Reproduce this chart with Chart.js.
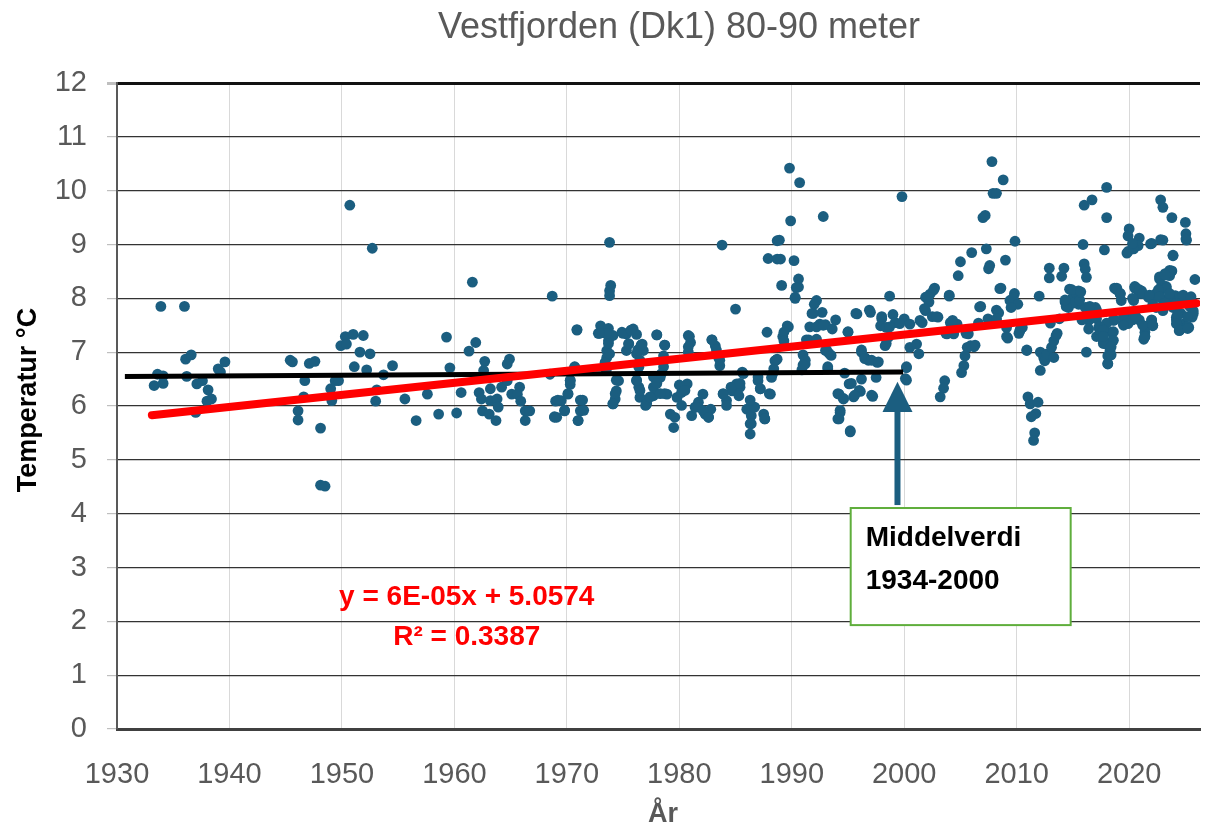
<!DOCTYPE html>
<html>
<head>
<meta charset="utf-8">
<script src="https://cdn.jsdelivr.net/npm/chart.js@4"></script>
<style>
html, body { margin: 0; padding: 0; background: #fff; }
</style>
</head>
<body>
<canvas id="myChart" width="1206" height="832"></canvas>
<script>
const obs1930s = [
  [1933.9,7.85],[1936.0,7.85],[1933.6,6.59],[1934.1,6.56],[1933.3,6.38],[1934.1,6.42],[1936.1,6.87],[1936.6,6.95],
  [1936.2,6.55],[1937.1,6.41],[1937.6,6.47],[1938.1,6.30],[1938.4,6.13],[1938.0,6.09],[1937.0,5.88],[1939.0,6.69],
  [1939.6,6.82],[1939.2,6.63],[1945.4,6.85],[1945.6,6.82],[1947.1,6.79],[1947.6,6.83],[1946.7,6.47],[1946.6,6.17],
  [1946.1,5.91],[1946.1,5.74],[1948.1,5.59],[1949.0,6.32],[1949.1,6.10],[1949.4,6.47],[1948.1,4.53],[1948.5,4.51]
];
const obs1950s = [
  [1950.7,9.73],[1952.7,8.93],[1961.6,8.30],[1968.7,8.04],[1950.3,7.29],[1951.0,7.33],[1951.9,7.31],[1949.9,7.12],
  [1950.4,7.15],[1951.6,7.00],[1952.5,6.97],[1951.1,6.73],[1952.2,6.67],[1953.7,6.58],[1954.5,6.75],[1949.7,6.47],
  [1953.1,6.30],[1953.0,6.09],[1955.6,6.13],[1956.6,5.73],[1957.6,6.22],[1958.6,5.85],[1959.3,7.28],[1959.6,6.71],
  [1960.2,5.87],[1960.6,6.25],[1961.3,7.02],[1961.9,7.18],[1962.7,6.83],[1962.6,6.66],[1962.2,6.25],[1962.4,6.13],
  [1963.2,6.32],[1963.2,6.10],[1962.5,5.91],[1963.1,5.85],[1963.7,5.73],[1963.8,6.13],[1963.9,5.98],[1964.2,6.35],
  [1964.7,6.47],[1964.7,6.78],[1964.9,6.87],[1965.1,6.22],[1965.8,6.35],[1965.6,6.22],[1965.9,6.09],[1966.3,5.91],
  [1966.7,5.91],[1966.3,5.73],[1968.5,6.59],[1969.0,6.09],[1968.9,5.80]
];
const obs1970s = [
  [1973.8,9.04],[1973.9,8.24],[1973.8,8.14],[1973.8,8.05],[1970.9,7.42],[1973.0,7.49],[1972.8,7.35],[1973.7,7.44],
  [1974.1,7.31],[1974.9,7.37],[1975.3,7.34],[1975.9,7.43],[1976.2,7.33],[1973.7,7.21],[1973.55,7.03],[1973.55,6.90],
  [1973.4,6.81],[1976.7,7.15],[1976.8,7.03],[1975.3,7.03],[1975.5,7.15],[1976.2,6.97],[1976.4,6.72],[1978.0,7.32],
  [1978.7,7.13],[1978.6,6.93],[1978.6,6.73],[1970.7,6.72],[1970.3,6.47],[1970.3,6.40],[1970.1,6.22],[1969.5,6.10],
  [1969.8,5.91],[1969.1,5.79],[1971.4,6.11],[1971.2,5.91],[1971.0,5.73],[1974.6,6.47],[1974.4,6.28],[1974.3,6.13],
  [1974.1,6.04],[1976.2,6.47],[1976.4,6.35],[1976.5,6.16],[1977.1,6.10],[1977.0,6.01],[1977.7,6.35],[1978.0,6.47],
  [1978.3,6.53],[1977.7,6.19],[1978.9,6.22],[1979.2,5.85],[1979.5,5.60],[1979.6,5.79],[1979.8,6.16],
  [1973.5,7.35],[1973.7,7.16],[1973.8,6.97],[1973.5,6.66],[1974.4,6.48],[1974.3,6.23],[1974.1,6.04],[1975.0,7.35],
  [1975.7,7.41],[1975.5,7.16],[1976.3,7.04],[1976.6,7.13],[1976.5,6.85],[1976.2,6.48],[1976.5,6.29],[1977.1,6.04],
  [1977.4,6.17],[1977.7,6.54],[1978.0,6.42],[1978.4,6.60],[1978.7,6.23],[1978.3,6.23],[1978.7,7.13],[1978.0,7.32],
  [1972.9,7.35],[1970.9,7.41],[1970.3,6.48],[1970.1,6.23],[1971.2,6.11],[1971.5,5.92],[1971.0,5.73],[1968.9,5.79],
  [1969.8,5.92],[1969.2,6.11],[1970.7,6.73]
];
const obs1980s = [
  [1983.8,8.99],[1988.7,9.07],[1987.9,8.74],[1988.7,8.73],[1985.0,7.80],[1987.8,7.37],[1980.2,6.25],[1980.5,6.35],
  [1980.7,6.41],[1980.2,6.01],[1980.8,7.31],[1981.0,7.18],[1980.8,7.00],[1981.1,5.82],[1981.4,5.98],[1981.7,6.07],
  [1982.1,6.22],[1982.3,5.85],[1982.6,5.79],[1982.8,5.94],[1982.9,7.23],[1983.2,7.12],[1983.5,6.90],[1983.6,6.75],
  [1983.9,6.22],[1984.2,6.10],[1984.2,6.01],[1984.7,6.28],[1985.1,6.41],[1985.4,6.35],[1985.3,6.19],[1985.6,6.63],
  [1986.0,5.94],[1986.3,5.67],[1986.4,5.82],[1986.7,5.98],[1987.0,6.47],[1987.2,6.32],[1987.5,5.85],[1987.6,5.76],
  [1988.1,6.22],[1988.2,6.53],[1988.5,6.84],[1988.4,6.69],
  [1980.9,7.29],[1980.8,7.10],[1980.0,6.39],[1980.5,6.29],[1981.5,5.98],[1982.1,5.92],[1982.6,5.79],[1982.9,7.23],
  [1983.3,7.04],[1983.6,6.85],[1983.9,6.23],[1984.6,6.35],[1985.4,6.42],[1985.7,6.60],[1986.3,6.11],[1986.4,5.67],
  [1986.3,5.48],[1987.0,6.54],[1987.2,6.32],[1987.6,5.76],[1988.0,6.23],[1988.3,6.60],[1988.6,6.85],[1989.2,7.29],
  [1989.7,7.47],[1990.3,8.00],[1990.6,8.21]
];
const obs1990s = [
  [1989.8,10.42],[1990.7,10.15],[1999.8,9.89],[1992.8,9.52],[1989.9,9.44],[1988.9,9.08],[1989.0,8.73],[1990.2,8.70],
  [1990.6,8.36],[1990.4,8.20],[1989.1,8.24],[1990.3,8.02],[1992.2,7.96],[1992.0,7.89],[1991.8,7.72],[1992.7,7.74],
  [1991.6,7.47],[1992.5,7.52],[1993.0,7.51],[1993.9,7.60],[1993.6,7.43],[1989.6,7.49],[1989.3,7.37],[1989.3,7.21],
  [1991.5,7.23],[1992.2,7.24],[1993.0,7.03],[1993.3,6.98],[1991.0,6.95],[1991.2,6.78],[1990.9,6.67],[1988.7,6.87],
  [1993.2,6.69],[1995.8,7.71],[1997.0,7.74],[1998.7,8.04],[1995.0,7.37],[1998.0,7.62],[1997.9,7.49],[1999.0,7.70],
  [1999.2,7.55],[1998.4,7.46],[2000.0,7.62],[2000.5,7.52],[1998.6,7.28],[1998.3,7.12],[1996.2,7.00],[1996.5,6.90],
  [1996.8,6.85],[1997.6,6.81],[1994.7,6.61],[1995.1,6.41],[1994.2,6.22],[1994.6,6.13],[1994.3,5.88],[1994.2,5.76],
  [1995.2,5.52],[1995.5,6.17],[1996.1,6.27],[1996.2,6.50],[1997.2,6.18],[1997.5,6.53],[2000.2,6.71],[2000.2,6.48],
  [1991.3,7.23],[1991.2,6.85],[1991.0,6.76],[1991.9,7.72],[1992.2,7.47],[1992.8,7.50],[1993.1,7.04],[1993.5,6.94],
  [1993.2,6.73],[1994.1,6.23],[1994.6,6.14],[1994.3,5.92],[1994.1,5.76],[1995.2,5.54],[1995.0,7.38],[1995.7,7.72],
  [1996.2,7.04],[1996.5,6.88],[1996.9,7.78],[1997.1,6.85],[1997.7,6.82],[1995.3,6.42],[1996.0,6.29],[1997.1,6.20],
  [1995.6,6.20],[1998.0,7.66],[1998.4,7.16],[1998.7,7.47],[1999.6,7.53],[2000.2,6.73],[2000.1,6.51]
];
const obs2000s = [
  [2007.8,10.54],[2007.9,9.95],[2007.0,9.50],[2007.2,9.54],[2006.0,8.85],[2005.0,8.68],[2004.8,8.42],[2007.3,8.92],
  [2007.6,8.61],[2007.5,8.55],[2000.5,7.09],[2001.3,6.97],[2001.1,7.15],[2001.6,7.55],[2001.9,7.77],[2001.9,8.02],
  [2002.3,8.08],[2002.7,8.19],[2002.2,7.93],[2002.5,7.66],[2003.0,7.65],[2004.0,8.04],[2004.1,7.55],[2004.4,7.34],
  [2003.8,7.34],[2004.7,7.52],[2005.7,7.34],[2005.9,7.12],[2006.2,7.10],[2005.6,7.09],[2005.4,6.93],[2005.3,6.75],
  [2005.1,6.62],[2006.6,7.54],[2006.8,7.85],[2003.6,6.47],[2003.5,6.33],[2003.2,6.17],
  [2002.6,8.15],[2002.1,8.03],[2001.8,7.81],[2001.4,7.59],[2002.9,7.66],[2004.0,8.06],[2004.3,7.59],[2003.7,7.35],
  [2005.5,7.35],[2006.3,7.13],[2006.7,7.84],[2008.5,8.18],[2009.4,7.96],[2009.8,8.09],[2010.3,7.41],[2010.9,7.04],
  [2008.2,7.78],[2009.1,7.29],[2007.45,7.62],[2008.2,7.59]
];
const obs2010s = [
  [2008.8,10.20],[2008.2,9.95],[2018.0,10.06],[2016.0,9.73],[2016.7,9.83],[2018.0,9.50],[2022.8,9.83],[2023.0,9.69],
  [2023.8,9.50],[2025.0,9.41],[2025.05,9.20],[2025.05,9.10],[2020.0,9.29],[2019.9,9.16],[2020.9,9.12],[2020.8,8.98],
  [2021.9,9.01],[2022.8,9.09],[2009.85,9.06],[2015.9,9.00],[2017.8,8.90],[2020.4,8.92],[2019.8,8.84],[2023.9,8.79],
  [2009.0,8.71],[2012.9,8.56],[2014.2,8.56],[2012.9,8.38],[2014.0,8.41],[2016.0,8.64],[2016.1,8.54],[2016.2,8.39],
  [2025.85,8.35],[2023.8,8.51],[2023.6,8.42],[2022.7,8.36],[2022.9,8.20],[2022.7,8.08],[2008.6,8.19],[2012.0,8.04],
  [2014.7,8.17],[2015.5,8.14],[2015.0,8.02],[2014.3,7.93],[2014.6,7.83],[2015.5,7.89],[2018.7,8.19],[2019.2,8.08],
  [2019.3,7.96],[2020.6,8.20],[2021.1,8.14],[2020.4,7.96],[2021.9,8.05],[2024.4,8.02],[2024.8,8.02],[2025.3,7.99],
  [2025.6,7.93],[2009.7,8.01],[2010.1,7.89],[2009.5,7.83],[2008.4,7.73],[2008.2,7.62],[2009.1,7.46],[2009.2,7.26],
  [2010.3,7.41],[2010.5,7.46],[2010.2,7.35],[2010.9,7.03],[2012.1,7.00],[2012.4,6.90],[2012.5,6.84],[2012.1,6.66],
  [2012.7,6.97],[2013.1,7.09],[2013.3,7.21],[2013.5,7.31],[2013.6,7.35],[2013.3,6.90],[2013.0,7.54],[2013.8,7.62],
  [2011.0,6.17],[2011.2,6.04],[2011.9,6.07],[2011.7,5.86],[2011.3,5.80],[2011.6,5.50],[2011.5,5.36],[2016.2,7.00],
  [2016.1,7.83],[2016.4,7.59],[2016.4,7.43],[2017.0,7.83],[2017.1,7.62],[2017.3,7.46],[2017.55,7.37],[2017.7,7.21],
  [2018.0,7.15],[2018.4,7.37],[2018.5,7.21],[2018.3,7.03],[2018.1,6.93],[2018.1,6.78],[2018.6,7.59],[2019.5,7.52],
  [2019.9,7.62],[2020.4,7.62],[2021.3,7.24],[2021.4,7.37],[2022.0,7.59],[2022.1,7.49],[2022.4,7.83],[2023.0,7.77],
  [2023.3,7.96],[2023.6,8.02],[2023.9,7.83],[2024.2,7.65],[2024.45,7.40],[2024.8,7.52],[2025.3,7.46],[2025.7,7.77],
  [2025.6,7.65],[2021.7,8.02],[2023.2,8.20],[2024.1,8.05]
];
const obs2020s = [
  [2022.7,8.40],[2023.2,8.46],[2023.6,8.52],[2023.3,8.22],[2022.4,8.09],[2022.1,7.97],[2023.0,7.97],[2023.6,8.03],
  [2024.2,7.91],[2024.8,7.97],[2025.4,7.85],[2025.7,7.72],[2024.6,7.72],[2024.2,7.60],[2024.5,7.45],[2025.2,7.48],
  [2021.4,7.29],[2021.5,7.48],[2020.9,7.60],[2020.3,7.72],[2020.9,8.09],[2020.5,8.19],[2019.2,8.09],[2018.9,8.16],
  [2019.5,7.66],[2018.6,7.60],[2018.0,7.54],[2017.4,7.48],[2017.1,7.78],[2016.5,7.85],[2016.3,7.66],[2015.8,7.60],
  [2015.3,8.09],[2014.9,8.16],[2015.0,7.91],[2014.4,7.85],[2014.3,7.97],[2015.6,7.97],[2015.7,8.12],[2017.1,7.29],
  [2017.5,7.29],[2017.7,7.16],[2017.4,7.41],[2018.3,6.98],[2018.1,6.79],
  [2019.9,8.87],[2020.3,9.02],[2022.0,9.02],[2023.0,9.08],[2025.1,9.08],[2023.9,8.80],[2023.75,8.50],[2023.2,8.43],
  [2022.9,8.25],[2023.3,8.19],[2022.6,8.16],[2018.9,8.19],[2019.2,8.09],[2020.5,8.22],[2020.9,8.16],[2021.2,8.09],
  [2021.8,8.06],[2022.7,8.03],[2023.6,8.09],[2024.8,8.06],[2025.5,8.03],[2020.3,8.00],[2022.1,7.88],[2023.2,7.91],
  [2024.3,7.69],[2024.2,7.53],[2024.5,7.41],[2025.2,7.44],[2025.2,7.66],[2018.7,7.60],[2019.6,7.60],[2020.3,7.60],
  [2021.2,7.50],[2022.0,7.60],[2022.1,7.50],[2021.4,7.29],[2017.7,7.41],[2017.7,7.29],[2018.6,7.38],[2018.6,7.22],
  [2018.4,7.10],[2018.4,6.95],[2019.9,7.53],[2020.6,7.66],[2019.5,7.50]
];

// linear trend (red) and 1934-2000 mean (black), end points
const trendYears = [1933.1, 2026.0];
const trendTemps = [5.83, 7.91];
const meanYears = [1930.7, 1999.9];
const meanTemps = [6.55, 6.63];

const xTicks = [1930, 1940, 1950, 1960, 1970, 1980, 1990, 2000, 2010, 2020];
const yTicks = [0, 1, 2, 3, 4, 5, 6, 7, 8, 9, 10, 11, 12];

const titleText = 'Vestfjorden (Dk1) 80-90 meter';
const xTitle = 'År';
const yTitle = 'Temperatur °C';
const equationLines = ['y = 6E-05x + 5.0574', 'R² = 0.3387'];
const boxLines = ['Middelverdi', '1934-2000'];

const dotColor = '#1b5e80';
const fontFamily = '"Liberation Sans", Arial, sans-serif';

const points = [].concat(obs1930s, obs1950s, obs1970s, obs1980s, obs1990s, obs2000s, obs2010s, obs2020s)
  .map(p => ({ x: p[0], y: p[1] }));
const trendData = trendYears.map((v, i) => ({ x: v, y: trendTemps[i] }));
const meanData = meanYears.map((v, i) => ({ x: v, y: meanTemps[i] }));

// text, arrow and box drawn on top of the plot
const notes = {
  id: 'notes',
  afterDatasetsDraw(chart) {
    const ctx = chart.ctx;
    const x = chart.scales.x, y = chart.scales.y;
    ctx.save();

    // arrow pointing at the end of the mean line
    const ax = x.getPixelForValue(1999.4);
    const tip = y.getPixelForValue(6.45);
    const head = y.getPixelForValue(5.89);
    const tail = y.getPixelForValue(4.16);
    ctx.fillStyle = dotColor;
    ctx.fillRect(ax - 3, head - 1, 6, tail - head + 1);
    ctx.beginPath();
    ctx.moveTo(ax, tip);
    ctx.lineTo(ax - 15, head);
    ctx.lineTo(ax + 15, head);
    ctx.closePath();
    ctx.fill();

    // label box
    const bl = x.getPixelForValue(1995.24), br = x.getPixelForValue(2014.8);
    const bt = y.getPixelForValue(4.105), bb = y.getPixelForValue(1.93);
    ctx.fillStyle = '#ffffff';
    ctx.fillRect(bl, bt, br - bl, bb - bt);
    ctx.strokeStyle = '#5fae3c';
    ctx.lineWidth = 2;
    ctx.strokeRect(bl, bt, br - bl, bb - bt);
    ctx.fillStyle = '#000000';
    ctx.font = 'bold 28px ' + fontFamily;
    ctx.textAlign = 'left';
    ctx.textBaseline = 'middle';
    ctx.fillText(boxLines[0], bl + 15, bt + 30);
    ctx.fillText(boxLines[1], bl + 15, bt + 73);

    // trend equation
    const ex = x.getPixelForValue(1961.1);
    ctx.fillStyle = '#ff0000';
    ctx.textAlign = 'center';
    ctx.fillText(equationLines[0], ex, y.getPixelForValue(2.45));
    ctx.fillText(equationLines[1], ex, y.getPixelForValue(1.71));
    ctx.restore();
  },
  afterDraw(chart) {
    const ctx = chart.ctx;
    ctx.save();
    ctx.textAlign = 'center';
    ctx.textBaseline = 'middle';
    ctx.fillStyle = '#595959';
    ctx.font = '36px ' + fontFamily;
    ctx.fillText(titleText, 679, 28);
    ctx.font = 'bold 27px ' + fontFamily;
    ctx.fillText(xTitle, 663, 815);
    ctx.fillStyle = '#000000';
    ctx.translate(29, 400);
    ctx.rotate(-Math.PI / 2);
    ctx.fillText(yTitle, 0, 0);
    ctx.restore();
  }
};

const config = {
  type: 'scatter',
  data: {
    datasets: [
      {
        type: 'line',
        data: trendData,
        borderColor: '#ff0000',
        borderWidth: 8,
        borderCapStyle: 'round',
        pointRadius: 0,
        order: 0
      },
      {
        type: 'line',
        data: meanData,
        borderColor: '#000000',
        borderWidth: 5,
        pointRadius: 0,
        order: 1
      },
      {
        data: points,
        backgroundColor: dotColor,
        borderColor: dotColor,
        borderWidth: 0,
        pointRadius: 5.4,
        order: 2
      }
    ]
  },
  options: {
    responsive: false,
    animation: false,
    devicePixelRatio: 1,
    layout: { padding: { top: 83, right: 6, left: 0, bottom: 0 } },
    plugins: { legend: { display: false }, tooltip: { enabled: false }, title: { display: false } },
    scales: {
      x: {
        type: 'linear',
        min: 1930,
        max: 2026.3,
        afterBuildTicks: s => { s.ticks = xTicks.map(v => ({ value: v })); },
        afterFit: s => { s.height = 103; },
        ticks: {
          autoSkip: false,
          maxRotation: 0,
          padding: 29,
          color: '#595959',
          font: { family: fontFamily, size: 29 },
          callback: v => String(v)
        },
        grid: { color: '#d9d9d9', lineWidth: 1, drawTicks: false },
        border: { color: '#404040', width: 3 }
      },
      y: {
        min: 0,
        max: 12,
        afterBuildTicks: s => { s.ticks = yTicks.map(v => ({ value: v })); },
        afterFit: s => { s.width = 117; },
        ticks: {
          padding: 20,
          color: '#595959',
          font: { family: fontFamily, size: 29 },
          callback: v => String(v)
        },
        grid: {
          color: ctx => (ctx.tick && ctx.tick.value === 12) ? '#111111' : '#333333',
          lineWidth: ctx => (ctx.tick && ctx.tick.value === 12) ? 3 : 1.2,
          tickColor: '#bfbfbf',
          tickLength: 10
        },
        border: { color: '#595959', width: 2 }
      }
    }
  },
  plugins: [notes]
};

const myChart = new Chart(document.getElementById('myChart'), config);
</script>
</body>
</html>
